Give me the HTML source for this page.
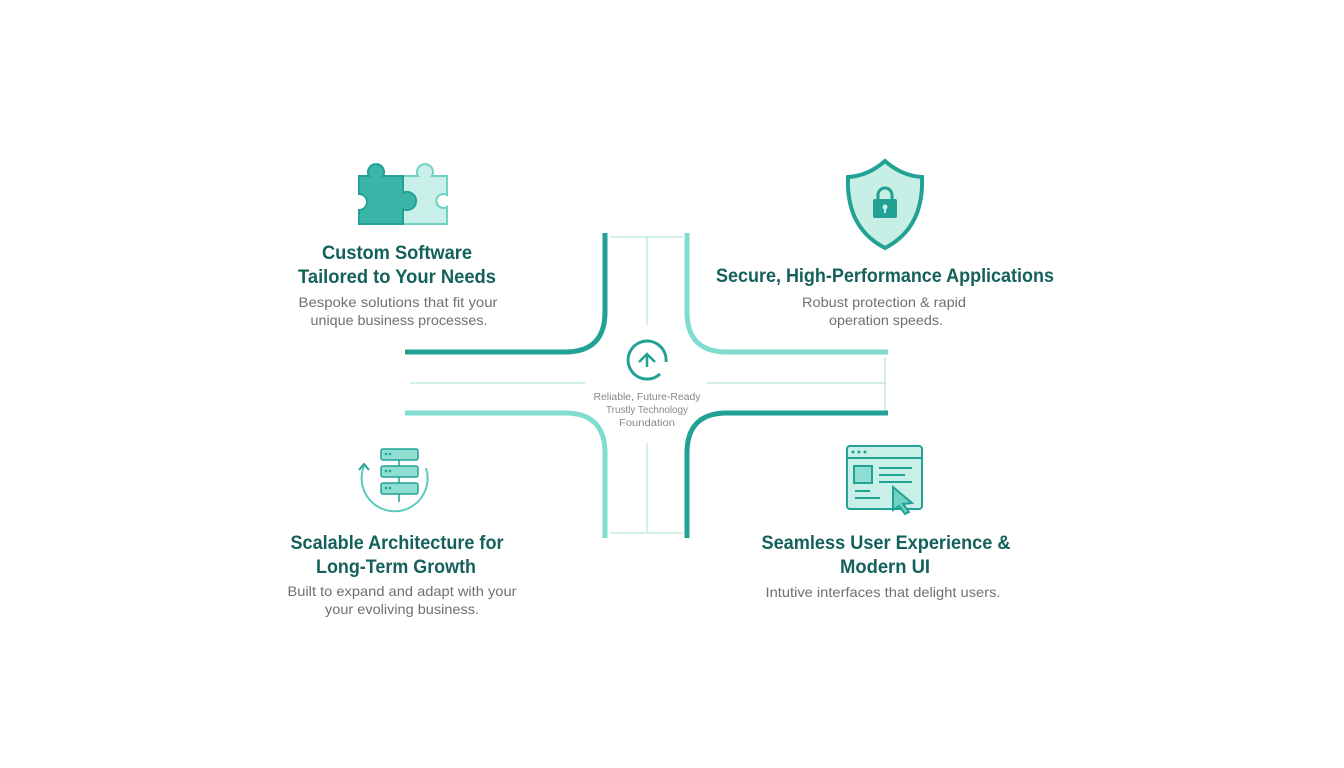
<!DOCTYPE html>
<html><head><meta charset="utf-8"><style>
html,body{margin:0;padding:0;background:#fff;}
svg{display:block}
text{font-family:"Liberation Sans",sans-serif;}
.h{font-weight:bold;fill:#14615b;font-size:19px;text-anchor:middle;}
.s{fill:#707070;font-size:14px;text-anchor:middle;}
.c{fill:#888;font-size:10px;text-anchor:middle;}
</style></head><body>
<svg width="1344" height="768" viewBox="0 0 1344 768">
<g fill="none" stroke-linecap="butt">
<path d="M605 233 V312 Q605 352 565 352 H405" stroke="#22a195" stroke-width="5"/>
<path d="M687 233 V312 Q687 352 727 352 H888" stroke="#7fdccf" stroke-width="5"/>
<path d="M405 413 H565 Q605 413 605 453 V538" stroke="#7fdccf" stroke-width="5"/>
<path d="M888 413 H727 Q687 413 687 453 V538" stroke="#22a195" stroke-width="5"/>
<g stroke="#a9ddd6" stroke-width="1">
<path d="M410 383 H585 M707 383 H885 M885 358 V410 M647 237 V325 M647 443 V532 M610 237 H683 M610 533 H683"/>
</g>
</g>
<path d="M660 374 A19 19 0 1 1 666 362" fill="none" stroke="#22a195" stroke-width="3"/>
<path d="M639 362 L647 354 L655 362 M647 354 V367" fill="none" stroke="#22a195" stroke-width="2.5"/>
<text class="c" x="647" y="400" textLength="107" lengthAdjust="spacingAndGlyphs">Reliable, Future-Ready</text>
<text class="c" x="647" y="413" textLength="82" lengthAdjust="spacingAndGlyphs">Trustly Technology</text>
<text class="c" x="647" y="426" textLength="56" lengthAdjust="spacingAndGlyphs">Foundation</text>
<g stroke-width="2">
<path d="M403 176 H418 a8 8 0 1 1 14 0 H447 V195 a7 7 0 1 0 0 12 V224 H403 Z" fill="#c9f0e8" stroke="#6fd3c4"/>
<path d="M359 176 H369 a8 8 0 1 1 14 0 H403 V193 a9 9 0 1 1 0 16 V224 H359 V210 a8 8 0 1 0 0 -16 Z" fill="#3bb5a7" stroke="#22a195"/>
</g>
<path d="M885 161 Q902 176 922 177 Q924 228 885 248 Q846 228 848 177 Q868 176 885 161 Z" fill="#c7efe6" stroke="#22a195" stroke-width="4"/>
<path d="M878 200 v-5 a7 7 0 0 1 14 0 v5" fill="none" stroke="#22a195" stroke-width="3"/>
<rect x="873" y="199" width="24" height="19" rx="2" fill="#22a195"/>
<circle cx="885" cy="207" r="2.5" fill="#c7efe6"/><rect x="884" y="207" width="2" height="6" fill="#c7efe6"/>
<g stroke="#22a195" stroke-width="1.5" fill="#8fded2">
<path d="M426 468 A33 33 0 1 1 364 466" fill="none" stroke="#5ccbbd" stroke-width="2"/>
<path d="M359 470 L364 464 L369 470" fill="none" stroke="#22a195" stroke-width="2"/>
<rect x="381" y="449" width="37" height="11" rx="2"/>
<rect x="381" y="466" width="37" height="11" rx="2"/>
<rect x="381" y="483" width="37" height="11" rx="2"/>
<path d="M399 460 V466 M399 477 V483 M399 494 V502" fill="none"/>
</g>
<g fill="#22a195"><circle cx="386" cy="454" r="1.3"/><circle cx="390" cy="454" r="1.3"/><circle cx="386" cy="471" r="1.3"/><circle cx="390" cy="471" r="1.3"/><circle cx="386" cy="488" r="1.3"/><circle cx="390" cy="488" r="1.3"/></g>
<g stroke="#22a195" stroke-width="2">
<rect x="847" y="446" width="75" height="63" rx="3" fill="#c9f0e8"/>
<path d="M847 458 H922" />
<rect x="854" y="466" width="18" height="17" fill="#8fded2"/>
<path d="M879 468 H912 M879 475 H905 M879 482 H912 M855 491 H870 M855 498 H880" fill="none"/>
<path d="M893 487 L912 503 L903 504 L909 512 L905 514 L899 506 L893 510 Z" fill="#6fd3c4"/>
</g>
<g fill="#22a195"><circle cx="853" cy="452" r="1.5"/><circle cx="859" cy="452" r="1.5"/><circle cx="865" cy="452" r="1.5"/></g>
<text class="h" x="397" y="259" textLength="150" lengthAdjust="spacingAndGlyphs">Custom Software</text>
<text class="h" x="397" y="283" textLength="198" lengthAdjust="spacingAndGlyphs">Tailored to Your Needs</text>
<text class="s" x="398" y="307" textLength="199" lengthAdjust="spacingAndGlyphs">Bespoke solutions that fit your</text>
<text class="s" x="399" y="325" textLength="177" lengthAdjust="spacingAndGlyphs">unique business processes.</text>
<text class="h" x="885" y="282" textLength="338" lengthAdjust="spacingAndGlyphs">Secure, High-Performance Applications</text>
<text class="s" x="884" y="307" textLength="164" lengthAdjust="spacingAndGlyphs">Robust protection &amp; rapid</text>
<text class="s" x="886" y="325" textLength="114" lengthAdjust="spacingAndGlyphs">operation speeds.</text>
<text class="h" x="397" y="549" textLength="213" lengthAdjust="spacingAndGlyphs">Scalable Architecture for</text>
<text class="h" x="396" y="573" textLength="160" lengthAdjust="spacingAndGlyphs">Long-Term Growth</text>
<text class="s" x="402" y="596" textLength="229" lengthAdjust="spacingAndGlyphs">Built to expand and adapt with your</text>
<text class="s" x="402" y="614" textLength="154" lengthAdjust="spacingAndGlyphs">your evoliving business.</text>
<text class="h" x="886" y="549" textLength="249" lengthAdjust="spacingAndGlyphs">Seamless User Experience &amp;</text>
<text class="h" x="885" y="573" textLength="90" lengthAdjust="spacingAndGlyphs">Modern UI</text>
<text class="s" x="883" y="597" textLength="235" lengthAdjust="spacingAndGlyphs">Intutive interfaces that delight users.</text>
</svg>
</body></html>
